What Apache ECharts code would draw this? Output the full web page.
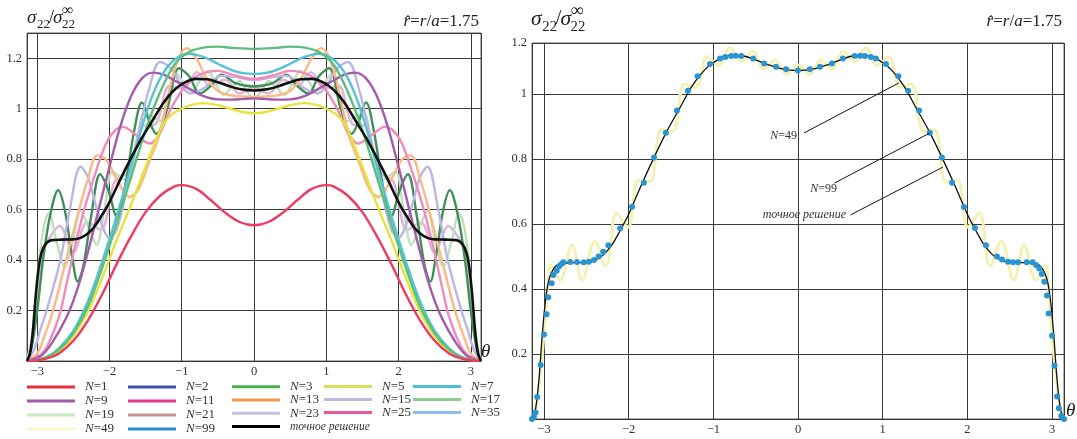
<!DOCTYPE html>
<html><head><meta charset="utf-8">
<script src="https://cdn.jsdelivr.net/npm/echarts@6/dist/echarts.min.js"></script>
<style>html,body{margin:0;padding:0;background:#fff}#c{width:1077px;height:439px}</style>
</head><body><div id="c"></div>
<script>
// ---------- DATA (theta, sigma22/sigma22inf) ----------
const n1 = [[-3.1416,0],[-2.9,0.008],[-2.7,0.03],[-2.5,0.08],[-2.3,0.16],[-2.1,0.265],[-1.9,0.385],[-1.7,0.495],[-1.5,0.59],[-1.3,0.655],[-1.1,0.692],[-1.0,0.697],[-0.8,0.682],[-0.6,0.638],[-0.4,0.588],[-0.2,0.551],[0,0.538],
  [0.2,0.551],[0.4,0.588],[0.6,0.638],[0.8,0.682],[1.0,0.697],[1.1,0.692],[1.3,0.655],[1.5,0.59],[1.7,0.495],[1.9,0.385],[2.1,0.265],[2.3,0.16],[2.5,0.08],[2.7,0.03],[2.9,0.008],[3.1416,0]];
const n3 = [[-3.1416,0],[-2.9,0.012],[-2.7,0.045],[-2.5,0.11],[-2.3,0.215],[-2.1,0.37],[-1.9,0.545],[-1.7,0.73],[-1.5,0.915],[-1.3,1.065],[-1.1,1.175],[-0.9,1.225],[-0.7,1.242],[-0.5,1.246],[-0.3,1.241],[0,1.237],
  [0.3,1.241],[0.5,1.246],[0.7,1.242],[0.9,1.225],[1.1,1.175],[1.3,1.065],[1.5,0.915],[1.7,0.73],[1.9,0.545],[2.1,0.37],[2.3,0.215],[2.5,0.11],[2.7,0.045],[2.9,0.012],[3.1416,0]];
const n5 = [[-3.1416,0],[-2.9,0.01],[-2.7,0.038],[-2.5,0.098],[-2.3,0.195],[-2.1,0.33],[-1.9,0.48],[-1.7,0.62],[-1.5,0.77],[-1.3,0.915],[-1.2,0.96],[-1.1,0.985],[-0.9,1.012],[-0.7,1.022],[-0.5,1.014],[-0.3,0.997],[-0.15,0.986],[0,0.982],
  [0.15,0.986],[0.3,0.997],[0.5,1.014],[0.7,1.022],[0.9,1.012],[1.1,0.985],[1.2,0.96],[1.3,0.915],[1.5,0.77],[1.7,0.62],[1.9,0.48],[2.1,0.33],[2.3,0.195],[2.5,0.098],[2.7,0.038],[2.9,0.01],[3.1416,0]];
const n7 = [[-3.1416,0],[-2.9,0.012],[-2.7,0.05],[-2.5,0.12],[-2.3,0.235],[-2.1,0.395],[-1.9,0.575],[-1.7,0.775],[-1.5,0.975],[-1.35,1.09],[-1.2,1.165],[-1.05,1.205],[-0.9,1.218],[-0.7,1.205],[-0.5,1.178],[-0.3,1.152],[-0.15,1.141],[0,1.138],
  [0.15,1.141],[0.3,1.152],[0.5,1.178],[0.7,1.205],[0.9,1.218],[1.05,1.205],[1.2,1.165],[1.35,1.09],[1.5,0.975],[1.7,0.775],[1.9,0.575],[2.1,0.395],[2.3,0.235],[2.5,0.12],[2.7,0.05],[2.9,0.012],[3.1416,0]];
const n9 = [[-3.1416,0],[-2.95,0.02],[-2.8,0.07],[-2.6,0.17],[-2.45,0.28],[-2.3,0.43],[-2.15,0.6],[-2.0,0.77],[-1.85,0.93],[-1.7,1.05],[-1.55,1.12],[-1.4,1.143],[-1.25,1.135],[-1.1,1.112],[-0.9,1.08],[-0.7,1.05],[-0.5,1.037],[-0.3,1.036],[-0.15,1.039],[0,1.041],
  [0.15,1.039],[0.3,1.036],[0.5,1.037],[0.7,1.05],[0.9,1.08],[1.1,1.112],[1.25,1.135],[1.4,1.143],[1.55,1.12],[1.7,1.05],[1.85,0.93],[2.0,0.77],[2.15,0.6],[2.3,0.43],[2.45,0.28],[2.6,0.17],[2.8,0.07],[2.95,0.02],[3.1416,0]];
const n11 = [[-3.1416,0],[-2.95,0.025],[-2.86,0.06],[-2.7,0.175],[-2.59,0.31],[-2.49,0.44],[-2.35,0.6],[-2.2,0.74],[-2.05,0.86],[-1.92,0.915],[-1.81,0.928],[-1.65,0.9],[-1.44,0.862],[-1.3,0.905],[-1.15,1.0],[-0.95,1.09],[-0.75,1.135],[-0.5,1.15],[-0.3,1.135],[0,1.118],
  [0.3,1.135],[0.5,1.15],[0.75,1.135],[0.95,1.09],[1.15,1.0],[1.3,0.905],[1.44,0.862],[1.65,0.9],[1.81,0.928],[1.92,0.915],[2.05,0.86],[2.2,0.74],[2.35,0.6],[2.49,0.44],[2.59,0.31],[2.7,0.175],[2.86,0.06],[2.95,0.025],[3.1416,0]];
const n13 = [[-3.1416,0],[-3.0,0.03],[-2.9,0.1],[-2.78,0.2],[-2.6,0.4],[-2.42,0.6],[-2.3,0.72],[-2.17,0.815],[-2.05,0.8],[-1.9,0.72],[-1.72,0.65],[-1.6,0.68],[-1.45,0.79],[-1.3,0.905],[-1.15,1.1],[-1.03,1.21],[-0.93,1.24],[-0.8,1.2],[-0.65,1.12],[-0.5,1.07],[-0.3,1.052],[0,1.048],
  [0.3,1.052],[0.5,1.07],[0.65,1.12],[0.8,1.2],[0.93,1.24],[1.03,1.21],[1.15,1.1],[1.3,0.905],[1.45,0.79],[1.6,0.68],[1.72,0.65],[1.9,0.72],[2.05,0.8],[2.17,0.815],[2.3,0.72],[2.42,0.6],[2.6,0.4],[2.78,0.2],[2.9,0.1],[3.0,0.03],[3.1416,0]];
const n15 = [[-3.1416,0],[-3.05,0.04],[-2.95,0.13],[-2.87,0.2],[-2.68,0.4],[-2.55,0.6],[-2.4,0.77],[-2.3,0.73],[-2.15,0.58],[-2.0,0.49],[-1.9,0.52],[-1.75,0.7],[-1.6,0.9],[-1.45,1.08],[-1.3,1.185],[-1.15,1.16],[-1.0,1.09],[-0.88,1.06],[-0.7,1.08],[-0.45,1.13],[-0.25,1.125],[0,1.113],
  [0.25,1.125],[0.45,1.13],[0.7,1.08],[0.88,1.06],[1.0,1.09],[1.15,1.16],[1.3,1.185],[1.45,1.08],[1.6,0.9],[1.75,0.7],[1.9,0.52],[2.0,0.49],[2.15,0.58],[2.3,0.73],[2.4,0.77],[2.55,0.6],[2.68,0.4],[2.87,0.2],[2.95,0.13],[3.05,0.04],[3.1416,0]];
const n17 = [[-3.1416,0],[-3.08,0.05],[-3.0,0.2],[-2.92,0.4],[-2.82,0.58],[-2.71,0.677],[-2.62,0.6],[-2.52,0.42],[-2.44,0.315],[-2.36,0.38],[-2.25,0.58],[-2.13,0.74],[-2.02,0.68],[-1.9,0.575],[-1.78,0.7],[-1.66,0.91],[-1.55,1.025],[-1.45,0.95],[-1.35,0.9],[-1.2,1.0],[-1.04,1.16],[-0.9,1.13],[-0.75,1.06],[-0.6,1.09],[-0.45,1.135],[-0.25,1.1],[0,1.088],
  [0.25,1.1],[0.45,1.135],[0.6,1.09],[0.75,1.06],[0.9,1.13],[1.04,1.16],[1.2,1.0],[1.35,0.9],[1.45,0.95],[1.55,1.025],[1.66,0.91],[1.78,0.7],[1.9,0.575],[2.02,0.68],[2.13,0.74],[2.25,0.58],[2.36,0.38],[2.44,0.315],[2.52,0.42],[2.62,0.6],[2.71,0.677],[2.82,0.58],[2.92,0.4],[3.0,0.2],[3.08,0.05],[3.1416,0]];
const n19 = [[-3.1416,0],[-3.06,0.12],[-2.98,0.38],[-2.91,0.53],[-2.84,0.585],[-2.73,0.47],[-2.62,0.375],[-2.51,0.47],[-2.4,0.595],[-2.29,0.53],[-2.18,0.46],[-2.07,0.6],[-1.96,0.75],[-1.85,0.73],[-1.74,0.71],[-1.63,0.85],[-1.52,0.98],[-1.41,0.97],[-1.3,0.95],[-1.19,1.05],[-1.08,1.14],[-0.97,1.1],[-0.86,1.07],[-0.75,1.11],[-0.64,1.15],[-0.53,1.1],[-0.42,1.055],[-0.31,1.085],[-0.2,1.11],[-0.1,1.07],[0,1.04],
  [0.1,1.07],[0.2,1.11],[0.31,1.085],[0.42,1.055],[0.53,1.1],[0.64,1.15],[0.75,1.11],[0.86,1.07],[0.97,1.1],[1.08,1.14],[1.19,1.05],[1.3,0.95],[1.41,0.97],[1.52,0.98],[1.63,0.85],[1.74,0.71],[1.85,0.73],[1.96,0.75],[2.07,0.6],[2.18,0.46],[2.29,0.53],[2.4,0.595],[2.51,0.47],[2.62,0.375],[2.73,0.47],[2.84,0.585],[2.91,0.53],[2.98,0.38],[3.06,0.12],[3.1416,0]];
const n21 = [[-3.1416,0],[-3.05,0.12],[-2.96,0.38],[-2.88,0.46],[-2.78,0.51],[-2.69,0.535],[-2.5,0.43],[-2.31,0.55],[-2.12,0.52],[-1.93,0.71],[-1.74,0.75],[-1.55,0.93],[-1.36,0.94],[-1.17,1.09],[-0.98,1.08],[-0.79,1.145],[-0.6,1.09],[-0.4,1.115],[-0.2,1.06],[0,1.085],
  [0.2,1.06],[0.4,1.115],[0.6,1.09],[0.79,1.145],[0.98,1.08],[1.17,1.09],[1.36,0.94],[1.55,0.93],[1.74,0.75],[1.93,0.71],[2.12,0.52],[2.31,0.55],[2.5,0.43],[2.69,0.535],[2.78,0.51],[2.88,0.46],[2.96,0.38],[3.05,0.12],[3.1416,0]];
const exact = [[-3.1416,0],[-3.1,0.03],[-3.06,0.12],[-3.02,0.26],[-2.98,0.37],[-2.94,0.43],[-2.88,0.465],[-2.8,0.479],[-2.65,0.481],[-2.5,0.482],[-2.4,0.488],[-2.3,0.505],[-2.2,0.535],[-2.1,0.58],[-2.0,0.63],[-1.85,0.72],[-1.7,0.805],[-1.55,0.885],[-1.4,0.955],[-1.25,1.025],[-1.1,1.075],[-0.95,1.105],[-0.8,1.118],[-0.65,1.117],[-0.5,1.105],[-0.35,1.09],[-0.2,1.078],[0,1.072],
  [0.2,1.078],[0.35,1.09],[0.5,1.105],[0.65,1.117],[0.8,1.118],[0.95,1.105],[1.1,1.075],[1.25,1.025],[1.4,0.955],[1.55,0.885],[1.7,0.805],[1.85,0.72],[2.0,0.63],[2.1,0.58],[2.2,0.535],[2.3,0.505],[2.4,0.488],[2.5,0.482],[2.65,0.481],[2.8,0.479],[2.88,0.465],[2.94,0.43],[2.98,0.37],[3.02,0.26],[3.06,0.12],[3.1,0.03],[3.1416,0]];
const n49 = [[-3.1416,0],[-3.1,0.03],[-3.06,0.1],[-3.02,0.2],[-2.98,0.33],[-2.95,0.43],[-2.92,0.474],[-2.81,0.428],[-2.67,0.535],[-2.55,0.428],[-2.4,0.546],[-2.27,0.47],[-2.14,0.634],[-2.01,0.59],[-1.88,0.735],[-1.75,0.73],[-1.61,0.89],[-1.48,0.885],[-1.34,1.03],[-1.21,1.02],[-1.07,1.115],[-0.94,1.088],[-0.8,1.142],[-0.67,1.1],[-0.535,1.13],[-0.4,1.077],[-0.27,1.105],[-0.135,1.06],[0,1.09],
  [0.135,1.06],[0.27,1.105],[0.4,1.077],[0.535,1.13],[0.67,1.1],[0.8,1.142],[0.94,1.088],[1.07,1.115],[1.21,1.02],[1.34,1.03],[1.48,0.885],[1.61,0.89],[1.75,0.73],[1.88,0.735],[2.01,0.59],[2.14,0.634],[2.27,0.47],[2.4,0.546],[2.55,0.428],[2.67,0.535],[2.81,0.428],[2.92,0.474],[2.95,0.43],[2.98,0.33],[3.02,0.2],[3.06,0.1],[3.1,0.03],[3.1416,0]];
const n99 = [[-3.1416,0],[-3.12,0.006],[-3.1,0.02],[-3.08,0.068],[-3.04,0.166],[-3.0,0.26],[-2.97,0.322],[-2.95,0.375],[-2.91,0.418],[-2.89,0.443],[-2.85,0.456],[-2.82,0.47],[-2.79,0.478],[-2.77,0.482],[-2.69,0.483],[-2.61,0.483],[-2.53,0.482],[-2.47,0.484],[-2.41,0.489],[-2.355,0.5],[-2.3,0.515],[-2.24,0.535],[-2.1,0.587],[-1.96,0.653],[-1.82,0.727],[-1.7,0.805],[-1.56,0.881],[-1.43,0.949],[-1.3,1.01],[-1.185,1.055],[-1.04,1.092],[-0.92,1.109],[-0.86,1.114],[-0.79,1.117],[-0.735,1.118],[-0.67,1.117],[-0.53,1.109],[-0.4,1.094],[-0.26,1.084],[-0.14,1.076],[0,1.072],
  [0.14,1.076],[0.26,1.084],[0.4,1.094],[0.53,1.109],[0.67,1.117],[0.735,1.118],[0.79,1.117],[0.86,1.114],[0.92,1.109],[1.04,1.092],[1.185,1.055],[1.3,1.01],[1.43,0.949],[1.557,0.881],[1.7,0.805],[1.82,0.727],[1.96,0.652],[2.09,0.588],[2.22,0.535],[2.35,0.5],[2.41,0.491],[2.48,0.484],[2.54,0.482],[2.6,0.482],[2.7,0.482],[2.77,0.482],[2.81,0.474],[2.85,0.463],[2.88,0.446],[2.91,0.422],[2.94,0.38],[2.96,0.325],[3.0,0.256],[3.03,0.164],[3.06,0.069],[3.08,0.033],[3.11,0.009],[3.1416,0]];
const xTicks = [-3, -2, -1, 0, 1, 2, 3];
const leftYLabels = ['0.2', '0.4', '0.6', '0.8', '1', '1.2'];
const rightYLabels = ['0.2', '0.4', '0.6', '0.8', '1', '1.2'];
const thetaMin = -3.1416, thetaMax = 3.1416;
const leftYMax = 1.3, rightYMax = 1.157;
// ---------------------------------------------------------

const SERIF = '"Liberation Serif", "DejaVu Serif", serif';
const plotColors = {
  'N=1':'#ef3b5f','N=3':'#5dbf7d','N=5':'#e5e43a','N=7':'#55c3d6','N=9':'#a45bab','N=11':'#f08cbb',
  'N=13':'#fdb887','N=15':'#bdb6e0','N=17':'#3e8f58','N=19':'#bfe0bf','N=21':'#e2b3d8',
  'точное решение':'#111111','N=49':'#f5f1b4','N=99':'#2a93d2',
  'N=2':'#3a50a0','N=23':'#c4c0e0','N=25':'#e8559a','N=35':'#90bce4'
};
const legendColors = {
  'N=1':'#e8303a','N=2':'#3a50a0','N=3':'#4caf50','N=5':'#dede5a','N=7':'#4cc0d0','N=9':'#a35aaa',
  'N=11':'#e8388c','N=13':'#f59a50','N=15':'#bcbcdc','N=17':'#8ccf8c','N=19':'#c8e8c4','N=21':'#c49494',
  'N=23':'#c4c0e0','N=25':'#e8559a','N=35':'#90bce4','N=49':'#f8f6c8','N=99':'#2a8fd0','точное решение':'#000000'
};

const leftList = [
  ['N=2', []], ['N=23', []], ['N=25', []], ['N=35', []],
  ['N=21', n21], ['N=19', n19], ['N=17', n17], ['N=15', n15], ['N=13', n13], ['N=11', n11],
  ['N=9', n9], ['N=7', n7], ['N=5', n5], ['N=3', n3], ['N=1', n1], ['точное решение', exact]
];
const series = leftList.map(([name, data]) => ({
  type: 'line', name, data, xAxisIndex: 0, yAxisIndex: 0, showSymbol: false, smooth: 0.35,
  lineStyle: { color: plotColors[name], width: name === 'точное решение' ? 2.6 : 2.4 },
  itemStyle: { color: plotColors[name] }, silent: true
}));
series.push({
  type: 'line', name: 'N=49', data: n49, xAxisIndex: 1, yAxisIndex: 1, showSymbol: false, smooth: 0.4,
  lineStyle: { color: plotColors['N=49'], width: 3 }, itemStyle: { color: plotColors['N=49'] }, silent: true
});
series.push({
  type: 'line', name: 'точное решение', data: exact, xAxisIndex: 1, yAxisIndex: 1, showSymbol: false, smooth: 0.3,
  lineStyle: { color: '#111', width: 1.3 }, itemStyle: { color: '#111' }, silent: true,
  markLine: {
    silent: true, symbol: ['none', 'arrow'], symbolSize: [0, 7],
    lineStyle: { color: '#111', width: 1, type: 'solid' }, label: { show: false },
    data: [
      [{ coord: [0.07, 0.88] }, { coord: [1.19, 1.034] }],
      [{ coord: [0.43, 0.726] }, { coord: [1.557, 0.88] }],
      [{ coord: [0.62, 0.628] }, { coord: [1.71, 0.775] }]
    ]
  }
});
series.push({
  type: 'line', name: 'N=99', data: n99, xAxisIndex: 1, yAxisIndex: 1, showSymbol: true, symbol: 'circle', symbolSize: 6,
  lineStyle: { width: 0, color: plotColors['N=99'] }, itemStyle: { color: plotColors['N=99'] }, silent: true
});

const cols = [
  { left: 27, names: ['N=1', 'N=9', 'N=19', 'N=49'], lh: 14 },
  { left: 128, names: ['N=2', 'N=11', 'N=21', 'N=99'], lh: 14 },
  { left: 232, names: ['N=3', 'N=13', 'N=23', 'точное решение'], lh: 13.3 },
  { left: 324, names: ['N=5', 'N=15', 'N=25'], lh: 12.3 },
  { left: 413, names: ['N=7', 'N=17', 'N=35'], lh: 12 }
];
const rich = {
  i: { fontFamily: SERIF, fontStyle: 'italic', fontSize: 13, color: '#333' },
  n: { fontFamily: SERIF, fontSize: 13, color: '#333' },
  t: { fontFamily: SERIF, fontStyle: 'italic', fontSize: 11.5, color: '#333' }
};
const legends = cols.map(c => ({
  orient: 'vertical', left: c.left, top: 380, height: 58, padding: 0, itemWidth: 48, itemHeight: 3, itemGap: 0, icon: 'rect',
  selectedMode: false,
  data: c.names.map(n => ({ name: n, icon: 'rect', itemStyle: { color: legendColors[n], opacity: 1, borderWidth: 0 } })),
  formatter: n => n === 'точное решение' ? '{t|точное решение}' : '{i|N}{n|=' + n.slice(2) + '}',
  textStyle: { fontFamily: SERIF, fontSize: 13, color: '#333', lineHeight: c.lh, padding: [0, 0, 0, 5], rich }
}));

function xAxis(gridIndex) {
  return {
    type: 'value', gridIndex, min: thetaMin, max: thetaMax, splitNumber: 6,
    axisLine: { show: true, lineStyle: { color: '#333', width: 1 } }, axisTick: { show: false },
    splitLine: { show: true, lineStyle: { color: '#3a3a3a', width: 1 } },
    axisLabel: {
      margin: 4, fontFamily: SERIF, fontSize: 12.5, color: '#333', showMinLabel: true, showMaxLabel: true,
      formatter: v => { const k = xTicks.find(t => Math.abs(t - v) < 1e-6); return k === undefined ? '' : (k < 0 ? '\u2212' + (-k) : String(k)); }
    }
  };
}
function yAxis(gridIndex, ymax, labels) {
  return {
    type: 'value', gridIndex, min: 0, max: ymax, interval: 0.2,
    axisLine: { show: false }, axisTick: { show: false },
    splitLine: { show: true, lineStyle: { color: '#3a3a3a', width: 1 } },
    axisLabel: {
      margin: 5, fontFamily: SERIF, fontSize: 12.5, color: '#333', showMaxLabel: true,
      formatter: v => {
        if (v < 0.1) return '';
        if (v > 1.25 && ymax > 1.25) return '';
        if (v > 1.1) return labels[5];
        return labels[Math.round(v / 0.2) - 1];
      }
    }
  };
}

function sigma(x, y, s) {
  const f = (sz, it) => (it ? 'italic ' : '') + sz * s + 'px ' + SERIF;
  const t = (dx, dy, text, sz, it) => ({ type: 'text', x: x + dx * s, y: y + dy * s, silent: true,
    style: { text, font: f(sz, it), fill: '#222', textAlign: 'left', textVerticalAlign: 'middle' } });
  return [t(0, 0, 'σ', 19, true), t(10, 7, '22', 13, false), t(22, 0, '/', 18, false),
          t(26, 0, 'σ', 19, true), t(35, -7, '∞', 16, false), t(35, 7, '22', 13, false)];
}
function rhat(xRight, y) {
  return { type: 'text', x: xRight, y, silent: true,
    style: { text: '{i|r̂}{n|=}{i|r}{n|/}{i|a}{n|=1.75}', textAlign: 'right', textVerticalAlign: 'middle',
      rich: { i: { fontFamily: SERIF, fontStyle: 'italic', fontSize: 17, fill: '#222' }, n: { fontFamily: SERIF, fontSize: 17, fill: '#222' } } } };
}
function note(xRight, y, text) {
  return { type: 'text', x: xRight, y, silent: true,
    style: { text, textAlign: 'right', textVerticalAlign: 'middle',
      rich: { i: { fontFamily: SERIF, fontStyle: 'italic', fontSize: 12, fill: '#333' }, n: { fontFamily: SERIF, fontSize: 12, fill: '#333' } } } };
}
const theta = (x, y) => ({ type: 'text', x, y, silent: true,
  style: { text: 'θ', font: 'italic 19px ' + SERIF, fill: '#222', textAlign: 'left', textVerticalAlign: 'middle' } });

const graphic = [].concat(
  sigma(27, 18, 1), sigma(531, 19, 1.13),
  [rhat(479, 22), rhat(1062, 22), theta(481, 352), theta(1066, 411),
   note(797, 136, '{i|N}{n|=49}'), note(837, 189, '{i|N}{n|=99}'), note(846, 215, '{i|точное решение}')]
);

const chart = echarts.init(document.getElementById('c'), null, { renderer: 'canvas' });
chart.setOption({
  animation: false,
  backgroundColor: '#fff',
  grid: [
    { left: 27, right: 596, top: 33, bottom: 78, show: true, borderColor: '#666', borderWidth: 1, containLabel: false },
    { left: 532, right: 13, top: 43, bottom: 20, show: true, borderColor: '#666', borderWidth: 1, containLabel: false }
  ],
  xAxis: [xAxis(0), xAxis(1)],
  yAxis: [yAxis(0, leftYMax, leftYLabels), yAxis(1, rightYMax, rightYLabels)],
  legend: legends,
  series,
  graphic
});
</script></body></html>
